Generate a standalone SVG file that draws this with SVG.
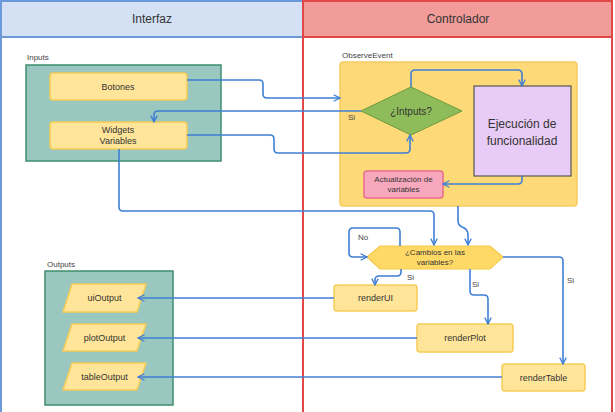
<svg xmlns="http://www.w3.org/2000/svg" width="615" height="412" viewBox="0 0 615 412">
<defs>
<marker id="arr" viewBox="0 0 10 10" refX="9" refY="5" markerWidth="8" markerHeight="8" orient="auto" markerUnits="userSpaceOnUse">
<path d="M1,1 L9,5 L1,9" fill="none" stroke="#3f7fd4" stroke-width="1.6"/>
</marker>
</defs>
<style>
text{font-family:"Liberation Sans",Arial,sans-serif;fill:#333;}
.hdr{font-size:12px;text-anchor:middle;dominant-baseline:central;}
.lbl{font-size:8px;fill:#444;}
.nt{font-size:9px;text-anchor:middle;dominant-baseline:central;}
.yel{fill:#ffe599;stroke:#f5cd55;stroke-width:1.5;}
.cont{fill:#9ac7bf;stroke:#3e8f6e;stroke-width:1.5;}
.c{fill:none;stroke:#3f7fd4;stroke-width:1.6;marker-end:url(#arr);}
.cn{fill:none;stroke:#3f7fd4;stroke-width:1.6;}
</style>
<rect width="615" height="412" fill="#ffffff"/>
<g id="lane-interfaz">
<rect x="1" y="1" width="302" height="36" fill="#d4e1f5" stroke="#6c9ad8" stroke-width="2"/>
<line x1="1" y1="37" x2="1" y2="412" stroke="#6c9ad8" stroke-width="2"/>
<text class="hdr" x="152" y="19">Interfaz</text>
</g>
<g id="lane-controlador">
<rect x="303" y="1" width="309" height="36" fill="#f19c99" stroke="#e04848" stroke-width="2"/>
<line x1="303" y1="37" x2="303" y2="412" stroke="#e04848" stroke-width="2"/>
<line x1="612" y1="37" x2="612" y2="412" stroke="#e04848" stroke-width="2"/>
<text class="hdr" x="458" y="19">Controlador</text>
</g>
<g id="inputs">
<text class="lbl" x="27" y="60">Inputs</text>
<rect class="cont" x="26" y="65" width="195" height="96"/>
</g>
<g id="botones">
<rect class="yel" x="50" y="73" width="137" height="27" rx="3"/>
<text class="nt" x="118" y="86.5">Botones</text>
</g>
<g id="widgets">
<rect class="yel" x="50" y="122" width="137" height="27" rx="3"/>
<text class="nt" x="118" y="130">Widgets</text>
<text class="nt" x="118" y="141">Variables</text>
</g>
<g id="observeevent">
<text class="lbl" x="342" y="58">ObserveEvent</text>
<rect x="340" y="62" width="237" height="144" rx="3" fill="#fdd978" stroke="#f6cc62" stroke-width="1.5"/>
</g>
<g id="inputs-decision">
<polygon points="361,111 411,87 462,111 411,135" fill="#8fbc5a" stroke="#6b9a3c" stroke-width="1"/>
<text class="nt" x="411" y="111" style="font-size:10px">¿Intputs?</text>
</g>
<g id="ejecucion">
<rect x="474" y="86" width="97" height="90" fill="#e8cbf6" stroke="#555" stroke-width="1.2"/>
<text class="nt" x="522" y="124" style="font-size:12px">Ejecución  de</text>
<text class="nt" x="522" y="141" style="font-size:12px">funcionalidad</text>
</g>
<g id="actualizacion">
<rect x="364" y="171" width="79" height="27" rx="3" fill="#f7a8bd" stroke="#e76c8d" stroke-width="1.5"/>
<text class="nt" x="403.5" y="179" style="font-size:8px">Actualización de</text>
<text class="nt" x="403.5" y="189" style="font-size:8px">variables</text>
</g>
<g id="cambios">
<polygon points="367,257 380,246 490,246 503,257 490,269 380,269" fill="#ffd966" stroke="#f5c94c" stroke-width="1.2"/>
<text class="nt" x="435" y="252" style="font-size:8px">¿Cambios en las</text>
<text class="nt" x="435" y="262" style="font-size:8px">variables?</text>
</g>
<g id="renderui">
<rect class="yel" x="334" y="285" width="83" height="26" rx="3"/>
<text class="nt" x="375.5" y="298">renderUI</text>
</g>
<g id="renderplot">
<rect class="yel" x="417" y="324" width="96" height="28" rx="3"/>
<text class="nt" x="465" y="338">renderPlot</text>
</g>
<g id="rendertable">
<rect class="yel" x="502" y="364" width="83" height="27" rx="3"/>
<text class="nt" x="543.5" y="377.5">renderTable</text>
</g>
<g id="outputs">
<text class="lbl" x="47" y="267">Outputs</text>
<rect class="cont" x="45" y="271" width="128" height="134"/>
</g>
<g id="uioutput">
<polygon class="yel" points="72,284 146,284 137,312 63,312"/>
<text class="nt" x="104.5" y="298">uiOutput</text>
</g>
<g id="plotoutput">
<polygon class="yel" points="72,324 146,324 137,351 63,351"/>
<text class="nt" x="104.5" y="337.5">plotOutput</text>
</g>
<g id="tableoutput">
<polygon class="yel" points="72,363 146,363 137,390 63,390"/>
<text class="nt" x="104.5" y="376.5">tableOutput</text>
</g>
<g id="connectors">
<path class="c" d="M187,80 H259 Q263,80 263,84 V94 Q263,98 267,98 H340"/>
<path class="c" d="M361,111 H158 Q154,111 154,115 V122"/>
<path class="c" d="M187,135 H270 Q274,135 274,139 V149 Q274,153 278,153 H406 Q410,153 410,149 V135"/>
<path class="c" d="M119,149 V207 Q119,211 123,211 H430 Q434,211 434,215 V245"/>
<path class="c" d="M411,87 V74 Q411,70 415,70 H518 Q522,70 522,74 V86"/>
<path class="c" d="M522,176 V180 Q522,184 518,184 H443"/>
<path class="c" d="M458,206 V221 Q458,225 462,227 Q468,229 468,235 V245"/>
<path class="c" d="M400,246 V232 Q400,228 396,228 H353 Q349,228 349,232 V253 Q349,257 353,257 H367"/>
<path class="c" d="M401,269 V272 Q401,276 397,276 H379 Q375,276 375,280 V285"/>
<path class="c" d="M470,269 V291 Q470,295 474,295 H484 Q488,295 488,299 V324"/>
<path class="c" d="M503,257 H559 Q563,257 563,261 V364"/>
<path class="c" d="M334,298 H138"/>
<path class="c" d="M417,338 H138"/>
<path class="c" d="M502,377 H138"/>
<text class="lbl" x="348" y="120">Si</text>
<text class="lbl" x="358" y="240">No</text>
<text class="lbl" x="407" y="280">Si</text>
<text class="lbl" x="472" y="287">Si</text>
<text class="lbl" x="567" y="283">Si</text>
</g>
</svg>
